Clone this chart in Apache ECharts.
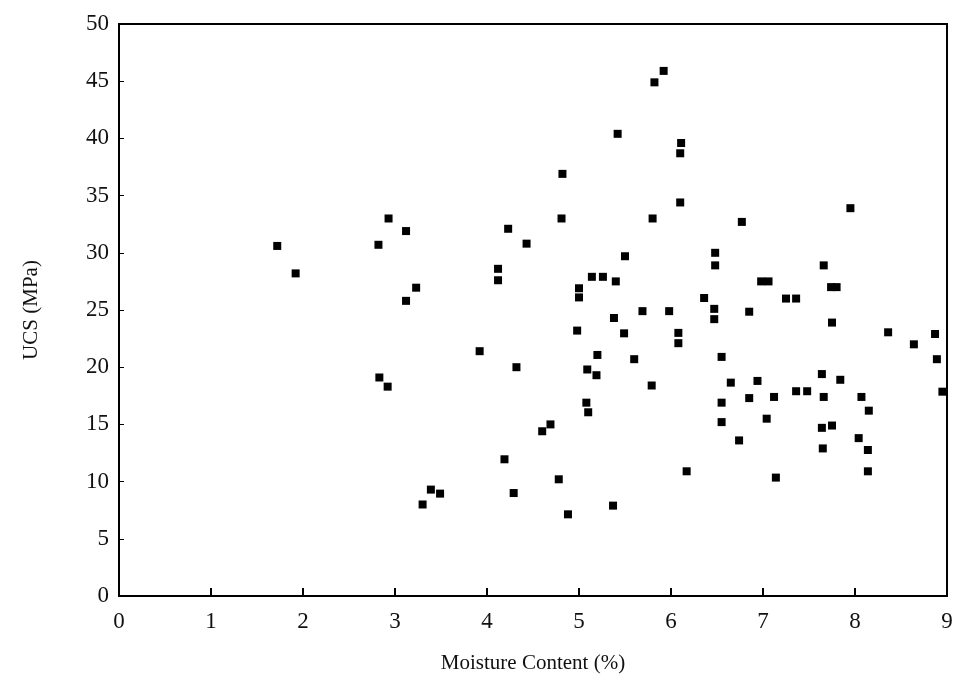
<!DOCTYPE html>
<html>
<head>
<meta charset="utf-8">
<script src="https://cdn.jsdelivr.net/npm/echarts@6/dist/echarts.min.js"></script>
<style>
  html, body { margin: 0; padding: 0; background: #fff; }
  #chart { width: 957px; height: 679px; }
</style>
</head>
<body>
<div id="chart"></div>
<script>
// moisture content (%) and UCS (MPa)
var moisture = [
  1.72, 1.92, 2.82, 2.93, 3.12, 3.12, 3.23, 2.83, 2.92, 3.30,
  3.39, 3.49, 3.92, 4.12, 4.12, 4.23, 4.43, 4.32, 4.19, 4.29,
  4.60, 4.69, 4.78, 4.88, 4.82, 4.81, 4.98, 5.00, 5.00, 5.09,
  5.08, 5.10, 5.14, 5.26, 5.20, 5.19, 5.37, 5.38, 5.40, 5.42,
  5.49, 5.50, 5.60, 5.69, 5.79, 5.80, 5.82, 5.92, 5.98, 6.08,
  6.08, 6.10, 6.10, 6.11, 6.17, 6.36, 6.47, 6.47, 6.48, 6.48,
  6.55, 6.55, 6.55, 6.65, 6.74, 6.77, 6.85, 6.85, 6.94, 6.98,
  7.06, 7.04, 7.12, 7.14, 7.25, 7.36, 7.36, 7.48, 7.64, 7.66,
  7.66, 7.64, 7.65, 7.74, 7.80, 7.75, 7.75, 7.84, 7.95, 8.04,
  8.07, 8.14, 8.14, 8.15, 8.36, 8.64, 8.87, 8.89, 8.95
];
var ucs = [
  30.6, 28.2, 30.7, 33.0, 31.9, 25.8, 26.95, 19.1, 18.3, 8.0,
  9.3, 8.95, 21.4, 28.6, 27.6, 32.1, 30.8, 20.0, 11.95, 9.0,
  14.4, 15.0, 10.2, 7.14, 36.9, 33.0, 23.2, 26.9, 26.1, 19.8,
  16.9, 16.06, 27.9, 27.9, 21.07, 19.3, 7.9, 24.3, 27.5, 40.4,
  22.96, 29.7, 20.7, 24.9, 18.4, 33.0, 44.9, 45.9, 24.9, 23.0,
  22.1, 34.4, 38.7, 39.6, 10.9, 26.05, 25.1, 24.2, 30.0, 28.9,
  20.9, 16.9, 15.2, 18.65, 13.6, 32.7, 24.85, 17.3, 18.8, 27.5,
  27.5, 15.5, 17.4, 10.35, 26.0, 26.0, 17.9, 17.9, 19.4, 28.9,
  17.4, 14.7, 12.9, 27.0, 27.0, 23.9, 14.9, 18.9, 33.9, 13.8,
  17.4, 12.76, 10.9, 16.2, 23.05, 22.0, 22.9, 20.7, 17.86
];

var points = moisture.map(function (m, i) { return [m, ucs[i]]; });

var font = "'Liberation Serif', 'DejaVu Serif', serif";

var chart = echarts.init(document.getElementById("chart"));
chart.setOption({
  animation: false,
  grid: {
    left: 119,
    right: 10,
    top: 24,
    bottom: 83,
    show: true,
    borderColor: "#000",
    borderWidth: 2
  },
  xAxis: {
    type: "value",
    min: 0,
    max: 9,
    interval: 1,
    name: "Moisture Content (%)",
    nameLocation: "middle",
    nameGap: 57,
    nameTextStyle: { fontFamily: font, fontSize: 21, color: "#111" },
    splitLine: { show: false },
    axisLine: { lineStyle: { color: "#000", width: 2 } },
    axisTick: { inside: true, length: 8, lineStyle: { color: "#000", width: 2 } },
    axisLabel: { fontFamily: font, fontSize: 23, color: "#111", margin: 14 }
  },
  yAxis: {
    type: "value",
    min: 0,
    max: 50,
    interval: 5,
    name: "UCS (MPa)",
    nameLocation: "middle",
    nameGap: 77,
    nameTextStyle: { fontFamily: font, fontSize: 21, color: "#111" },
    splitLine: { show: false },
    axisLine: { lineStyle: { color: "#000", width: 2 } },
    axisTick: { inside: true, length: 5, lineStyle: { color: "#000", width: 1 } },
    axisLabel: { fontFamily: font, fontSize: 23, color: "#111", margin: 10 }
  },
  series: [
    {
      type: "scatter",
      symbol: "rect",
      symbolSize: 8,
      itemStyle: { color: "#000", opacity: 1 },
      data: points
    }
  ]
});
</script>
</body>
</html>
